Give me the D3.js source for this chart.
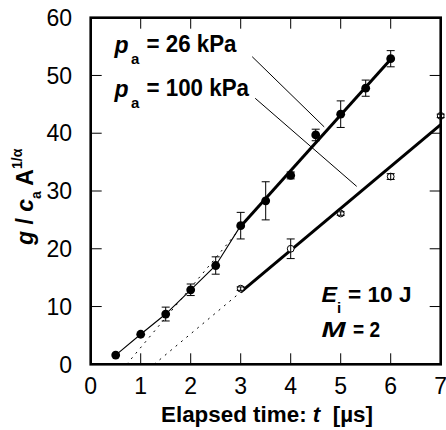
<!DOCTYPE html>
<html><head><meta charset="utf-8">
<script src="https://cdn.jsdelivr.net/npm/d3@7"></script>
<style>
html,body{margin:0;padding:0;background:#fff;}
svg{display:block;font-family:"Liberation Sans",Arial,sans-serif;}
</style></head>
<body><svg id="c" width="446" height="430"></svg>
<script>
// ---- data ----
const t26 = [0.5, 1, 1.5, 2, 2.5, 3, 3.5, 4, 4.5, 5, 5.5, 6];
const g26 = [1.6, 5.2, 8.7, 12.9, 17.1, 24.0, 28.3, 32.7, 39.7, 43.3, 47.8, 52.9];
const err26 = [0, 0, 1.2, 1.0, 1.5, 2.3, 3.3, 0.6, 1.0, 2.3, 1.4, 1.4];
const t100 = [3, 4, 5, 6, 7];
const g100 = [13.1, 20.0, 26.1, 32.5, 43.0];
const err100 = [0.3, 1.7, 0.3, 0.5, 0.3];
const fit26T = [2.97, 6.05], fit26G = [23.6, 53.3];
const ext26T = [0.72, 2.97], ext26G = [0, 23.3];
const fit100T = [3.0, 7.0], fit100G = [12.5, 41.5];
const ext100T = [1.27, 3.0], ext100G = [0, 12.5];
const xTicks = [0, 1, 2, 3, 4, 5, 6, 7];
const yTicks = [0, 10, 20, 30, 40, 50, 60];
// leader lines (data units)
const lead26 = [[3.23, 53.25], [4.67, 41.1]];
const lead100 = [[3.29, 46.05], [5.32, 30.8]];

const svg = d3.select("#c");
const L = 90.7, R = 440.7, T = 17.7, B = 364.3;
const x = d3.scaleLinear().domain([0, 7]).range([L, R]);
const y = d3.scaleLinear().domain([0, 60]).range([B, T]);

const g = svg.append("g");

// ticks (inward on all sides)
const tickLen = 11;
const xIn = xTicks.slice(1, -1), yIn = yTicks.slice(1, -1);
g.append("g").selectAll("line").data(xIn).join("line")
  .attr("x1", d => x(d)).attr("x2", d => x(d)).attr("y1", B).attr("y2", B - tickLen)
  .attr("stroke", "#000").attr("stroke-width", 1);
g.append("g").selectAll("line").data(xIn).join("line")
  .attr("x1", d => x(d)).attr("x2", d => x(d)).attr("y1", T).attr("y2", T + tickLen)
  .attr("stroke", "#000").attr("stroke-width", 1);
g.append("g").selectAll("line").data(yIn).join("line")
  .attr("y1", d => y(d)).attr("y2", d => y(d)).attr("x1", L).attr("x2", L + tickLen)
  .attr("stroke", "#000").attr("stroke-width", 1);
g.append("g").selectAll("line").data(yIn).join("line")
  .attr("y1", d => y(d)).attr("y2", d => y(d)).attr("x1", R).attr("x2", R - tickLen)
  .attr("stroke", "#000").attr("stroke-width", 1);

// tick labels
g.append("g").selectAll("text").data(xTicks).join("text")
  .attr("x", d => x(d)).attr("y", 394).attr("text-anchor", "middle")
  .attr("font-size", 23).text(d => d);
g.append("g").selectAll("text").data(yTicks).join("text")
  .attr("x", 72).attr("y", d => y(d) + 8.2).attr("text-anchor", "end")
  .attr("font-size", 23).text(d => d);

// dotted extensions
const line = d3.line().x(d => x(d[0])).y(d => y(d[1]));
const pairs = (ts, gs) => ts.map((t, i) => [t, gs[i]]);
[[ext26T, ext26G], [ext100T, ext100G]].forEach(([ts, gs]) => {
  g.append("path").attr("d", line(pairs(ts, gs))).attr("fill", "none")
    .attr("stroke", "#000").attr("stroke-width", 1).attr("stroke-dasharray", "2,5");
});

// thin connecting line 26 kPa (early points)
const early = pairs(t26, g26).filter(d => d[0] <= 3);
g.append("path").attr("d", line(early))
  .attr("fill", "none").attr("stroke", "#000").attr("stroke-width", 1.1);

// thick fit lines
[[fit26T, fit26G], [fit100T, fit100G]].forEach(([ts, gs]) => {
  g.append("path").attr("d", line(pairs(ts, gs))).attr("fill", "none")
    .attr("stroke", "#000").attr("stroke-width", 3);
});

// leader lines
[lead26, lead100].forEach(p => {
  g.append("path").attr("d", line(p)).attr("stroke", "#000").attr("stroke-width", 1).attr("fill", "none");
});

// error bars
function errBars(ts, gs, es) {
  const gg = g.append("g").attr("stroke", "#000").attr("stroke-width", 1);
  ts.forEach((t, i) => {
    if (!es[i]) return;
    const cx = x(t), y1 = y(gs[i] - es[i]), y2 = y(gs[i] + es[i]);
    gg.append("line").attr("x1", cx).attr("x2", cx).attr("y1", y1).attr("y2", y2);
    gg.append("line").attr("x1", cx - 4).attr("x2", cx + 4).attr("y1", y1).attr("y2", y1);
    gg.append("line").attr("x1", cx - 4).attr("x2", cx + 4).attr("y1", y2).attr("y2", y2);
  });
}
errBars(t26, g26, err26);

// markers
g.append("g").selectAll("circle").data(pairs(t26, g26)).join("circle")
  .attr("cx", d => x(d[0])).attr("cy", d => y(d[1])).attr("r", 4.4).attr("fill", "#000");
g.append("g").selectAll("circle").data(pairs(t100, g100)).join("circle")
  .attr("cx", d => x(d[0])).attr("cy", d => y(d[1])).attr("r", 3.4)
  .attr("fill", "#fff").attr("stroke", "#000").attr("stroke-width", 1);
errBars(t100, g100, err100);

// frame
g.append("rect").attr("x", L).attr("y", T).attr("width", R - L).attr("height", B - T)
  .attr("fill", "none").attr("stroke", "#000").attr("stroke-width", 2.6);

// labels
function label(px, py, main, sub, rest, restLen) {
  const tx = g.append("g").attr("font-weight", "bold");
  tx.append("text").attr("x", px).attr("y", py).attr("font-size", 23).attr("font-style", "italic").text(main);
  tx.append("text").attr("x", px + 16.5).attr("y", py + 11).attr("font-size", 15).text(sub);
  tx.append("text").attr("x", px + 32).attr("y", py - 1.5).attr("font-size", 23)
    .attr("textLength", restLen).attr("lengthAdjust", "spacingAndGlyphs").text(rest);
}
label(114.5, 53.3, "p", "a", "= 26 kPa", 90);
label(114.5, 97, "p", "a", "= 100 kPa", 102.5);

const tE = g.append("g").attr("font-weight", "bold");
tE.append("text").attr("x", 321.5).attr("y", 301.7).attr("font-size", 22).attr("font-style", "italic")
  .attr("textLength", 15.5).attr("lengthAdjust", "spacingAndGlyphs").text("E");
tE.append("text").attr("x", 337).attr("y", 313).attr("font-size", 15).text("i");
tE.append("text").attr("x", 348).attr("y", 301.7).attr("font-size", 22)
  .attr("textLength", 63.5).attr("lengthAdjust", "spacingAndGlyphs").text("= 10 J");
tE.append("text").attr("x", 321.5).attr("y", 337.3).attr("font-size", 22).attr("font-style", "italic")
  .attr("textLength", 24).attr("lengthAdjust", "spacingAndGlyphs").text("M");
tE.append("text").attr("x", 353).attr("y", 337.3).attr("font-size", 22)
  .attr("textLength", 27).attr("lengthAdjust", "spacingAndGlyphs").text("= 2");

// x title
const xt = g.append("text").attr("x", 161).attr("y", 421.5).attr("font-size", 22).attr("font-weight", "bold")
  .attr("textLength", 212).attr("lengthAdjust", "spacingAndGlyphs");
xt.append("tspan").text("Elapsed time: ");
xt.append("tspan").attr("font-style", "italic").text("t");
xt.append("tspan").text("\u00a0 [\u00b5s]");

// y title
const yt = g.append("text").attr("transform", "translate(33,245) rotate(-90)")
  .attr("font-weight", "bold").attr("font-size", 23);
yt.append("tspan").attr("font-style", "italic").text("g");
yt.append("tspan").text(" / ");
yt.append("tspan").attr("font-style", "italic").text("c");
yt.append("tspan").attr("font-size", 14).attr("dy", 8).text("a");
yt.append("tspan").attr("dy", -8).text(" A");
yt.append("tspan").attr("font-size", 14).attr("dy", -11).text("1/\u03b1");
</script></body></html>
